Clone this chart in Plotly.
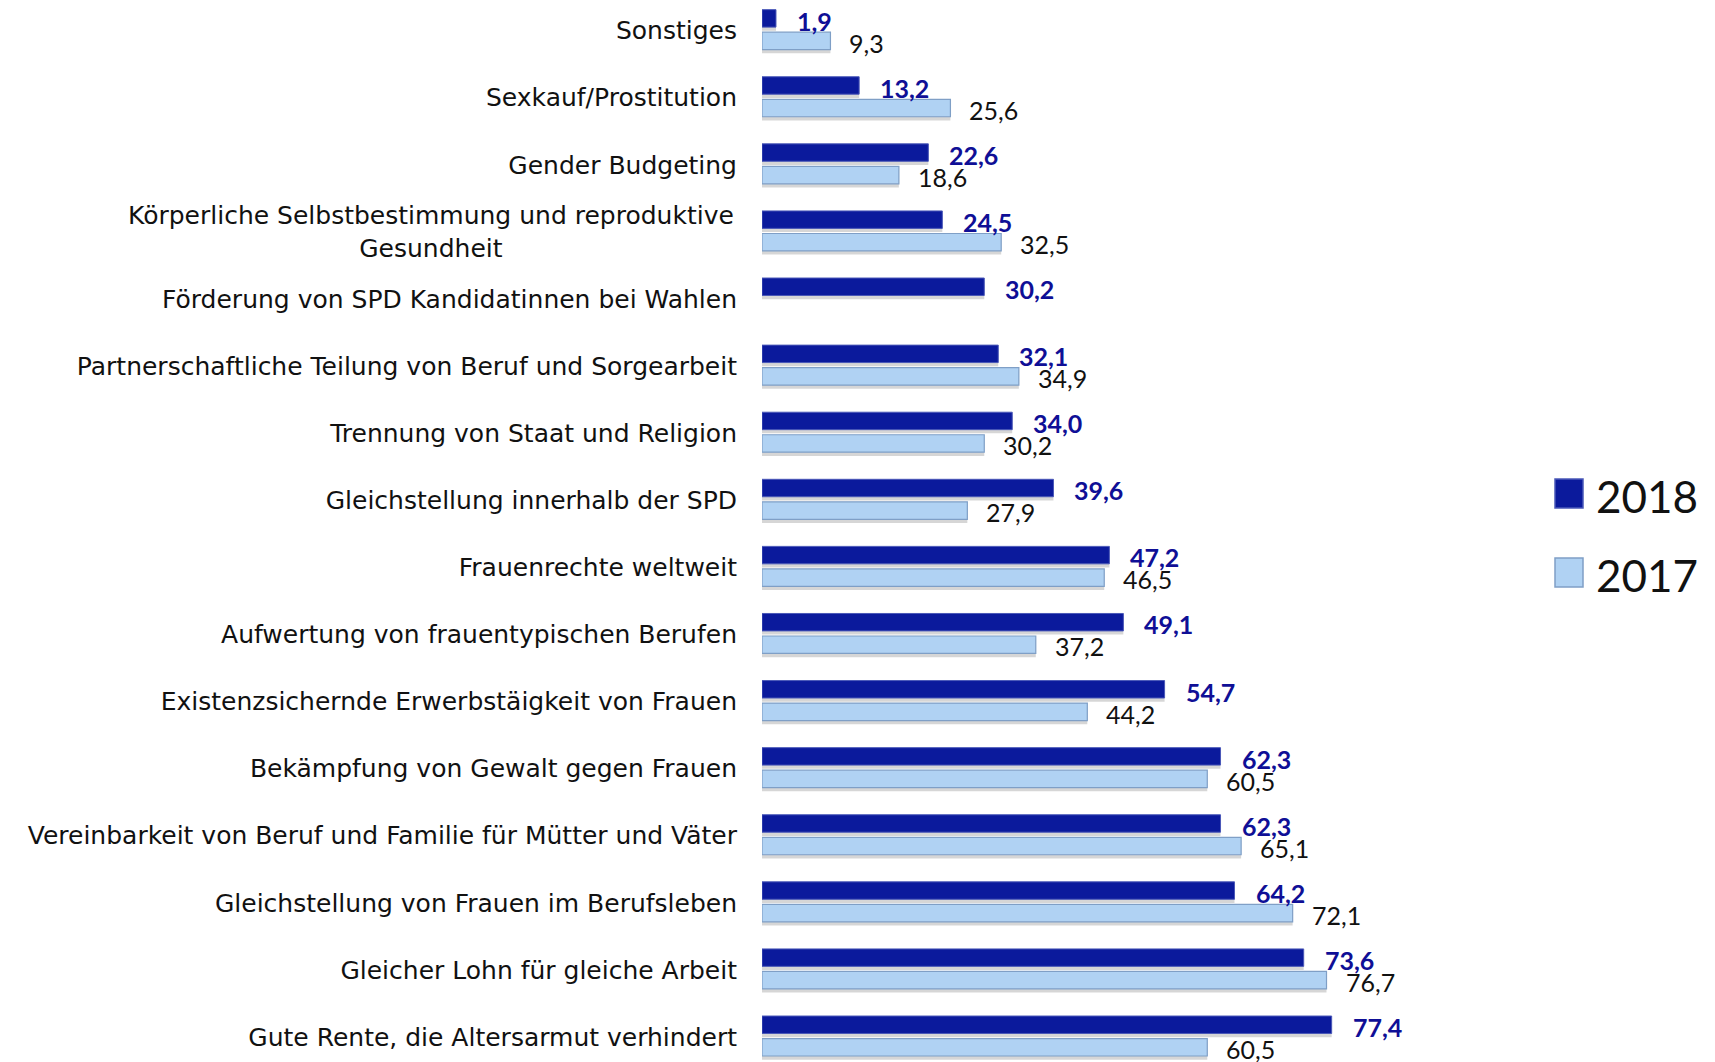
import plotly.graph_objects as go

categories = [
    "Sonstiges",
    "Sexkauf/Prostitution",
    "Gender Budgeting",
    "Körperliche Selbstbestimmung und reproduktive<br>Gesundheit",
    "Förderung von SPD Kandidatinnen bei Wahlen",
    "Partnerschaftliche Teilung von Beruf und Sorgearbeit",
    "Trennung von Staat und Religion",
    "Gleichstellung innerhalb der SPD",
    "Frauenrechte weltweit",
    "Aufwertung von frauentypischen Berufen",
    "Existenzsichernde Erwerbstäigkeit von Frauen",
    "Bekämpfung von Gewalt gegen Frauen",
    "Vereinbarkeit von Beruf und Familie für Mütter und Väter",
    "Gleichstellung von Frauen im Berufsleben",
    "Gleicher Lohn für gleiche Arbeit",
    "Gute Rente, die Altersarmut verhindert",
]
values_2018 = [1.9, 13.2, 22.6, 24.5, 30.2, 32.1, 34.0, 39.6, 47.2, 49.1, 54.7, 62.3, 62.3, 64.2, 73.6, 77.4]
values_2017 = [9.3, 25.6, 18.6, 32.5, None, 34.9, 30.2, 27.9, 46.5, 37.2, 44.2, 60.5, 65.1, 72.1, 76.7, 60.5]
series_names = ["2018", "2017"]

# page body has an 8px default margin -> figure drawn 8px smaller / shifted
OFF = 8
W, H = 1715 - OFF, 1062 - OFF
L_MARGIN = 762 - OFF
PLOT_W = 736
LABEL_FONT = "DejaVu Sans"
NUM_FONT = "Lato"
DARK = "#0B1A9C"
LIGHT = "#B0D2F3"
DARK_TEXT = "#0F0F96"
SHADOW = "rgba(0,0,0,0.16)"


def fmt(v):
    return f"{v:.1f}".replace(".", ",")


def px_x(p):
    return (p - OFF - L_MARGIN) / PLOT_W


def px_y(p):
    return 1 - (p - OFF) / H


fig = go.Figure()
# soft drop shadows under the bars
for vals, off in ((values_2018, -0.312), (values_2017, 0.024)):
    fig.add_trace(go.Bar(
        x=vals, y=categories, orientation="h",
        marker=dict(color=SHADOW, line=dict(width=0)),
        width=0.26, offset=off + 0.055, showlegend=False, hoverinfo="skip",
    ))
fig.add_trace(go.Bar(
    name=series_names[0], x=values_2018, y=categories, orientation="h",
    marker=dict(color=DARK, line=dict(color="#4A58B8", width=1)),
    width=0.26, offset=-0.312, showlegend=False,
))
fig.add_trace(go.Bar(
    name=series_names[1], x=values_2017, y=categories, orientation="h",
    marker=dict(color=LIGHT, line=dict(color="#7F9FC6", width=1.2)),
    width=0.26, offset=0.024, showlegend=False,
))

annotations = []
for cat, v in zip(categories, values_2018):
    if v is None:
        continue
    annotations.append(dict(
        x=v, y=cat, xref="x", yref="y", text=f"<b>{fmt(v)}</b>", showarrow=False,
        xanchor="left", yanchor="middle", xshift=19, yshift=10,
        font=dict(family=NUM_FONT, size=25, color=DARK_TEXT),
    ))
for cat, v in zip(categories, values_2017):
    if v is None:
        continue
    annotations.append(dict(
        x=v, y=cat, xref="x", yref="y", text=fmt(v), showarrow=False,
        xanchor="left", yanchor="middle", xshift=17, yshift=-12,
        font=dict(family=NUM_FONT, size=25, color="#111111"),
    ))

# multi-line category label (centred lines)
tick_text = [c if "<br>" not in c else "" for c in categories]
for c in categories:
    if "<br>" in c:
        annotations.append(dict(
            x=0, y=c, xref="paper", yref="y", text=c, showarrow=False,
            xanchor="right", yanchor="middle", align="center", xshift=-26,
            font=dict(family=LABEL_FONT, size=25, color="#111111"),
        ))

# legend (manual, large symbols), positions in reference pixels
legend_items = [(series_names[0], DARK, "#4A58B8", 479, 508, 496),
                (series_names[1], LIGHT, "#7F9FC6", 558, 587, 575)]
shapes = []
for name, col, lc, y0, y1, yc in legend_items:
    shapes.append(dict(type="rect", xref="paper", yref="paper",
                       x0=px_x(1555), x1=px_x(1583), y0=px_y(y1), y1=px_y(y0),
                       fillcolor=col, line=dict(color=lc, width=1.5)))
    annotations.append(dict(
        x=px_x(1594), y=px_y(yc), xref="paper", yref="paper", text=name,
        showarrow=False, xanchor="left", yanchor="middle",
        font=dict(family=NUM_FONT, size=44, color="#111111"),
    ))

top_px, spacing = 30.6 - OFF, 67.09
fig.update_layout(
    width=W, height=H,
    margin=dict(l=L_MARGIN, r=W - L_MARGIN - PLOT_W, t=0, b=0, pad=0),
    plot_bgcolor="white", paper_bgcolor="white",
    barmode="overlay",
    font=dict(family=LABEL_FONT, size=25, color="#111111"),
    xaxis=dict(range=[0, 100], visible=False, fixedrange=True),
    yaxis=dict(
        type="category", categoryorder="array", categoryarray=categories,
        range=[(H - top_px) / spacing, -top_px / spacing],
        tickmode="array", tickvals=categories, ticktext=tick_text,
        showgrid=False, zeroline=False, showline=False, ticks="",
        ticklabelstandoff=24,
        tickfont=dict(family=LABEL_FONT, size=25, color="#111111"),
    ),
    annotations=annotations,
    shapes=shapes,
    showlegend=False,
)

fig.write_html("out.html")
